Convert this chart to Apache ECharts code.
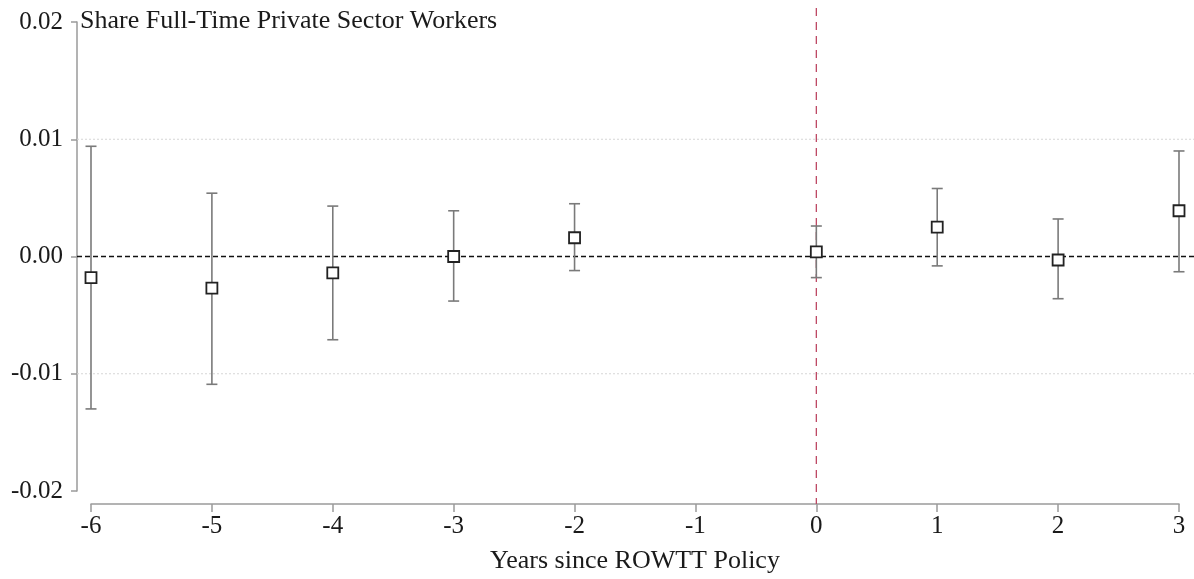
<!DOCTYPE html>
<html>
<head>
<meta charset="utf-8">
<script src="https://cdn.jsdelivr.net/npm/echarts@6/dist/echarts.min.js"></script>
<style>html,body{margin:0;padding:0;background:#fff}#c{width:1194px;height:579px}</style>
</head>
<body>
<div id="c"></div>
<script>
const years = [-6, -5, -4, -3, -2, 0, 1, 2, 3];
const estimates = [-0.0018, -0.0027, -0.0014, 0.0000, 0.0016, 0.0004, 0.0025, -0.0003, 0.0039];
const ciLower = [-0.0130, -0.0109, -0.0071, -0.0038, -0.0012, -0.0018, -0.0008, -0.0036, -0.0013];
const ciUpper = [0.0094, 0.0054, 0.0043, 0.0039, 0.0045, 0.0026, 0.0058, 0.0032, 0.0090];
const xTicks = [-6, -5, -4, -3, -2, -1, 0, 1, 2, 3];
const yTicks = [-0.02, -0.01, 0.00, 0.01, 0.02];
const gridLineValues = [-0.01, 0.01];
const zeroValue = 0;
const policyYear = 0;

const FONT = '"Liberation Serif", "DejaVu Serif", serif';
const AXIS_COLOR = '#9a9a9a';
const TEXT_COLOR = '#1a1a1a';

// Main plot area geometry
const G = {left: 91, right: 15, top: 22, bottom: 88};
const W = 1194, H = 579;
const xMin = -6, xMax = 3, yMin = -0.02, yMax = 0.02;
// Overlay area (reference lines extend to the y-axis / x-axis and beyond the top)
const G2 = {left: 77, right: 0, top: 8, bottom: 75};
const pxPerX = (W - G.left - G.right) / (xMax - xMin);
const pxPerY = (H - G.top - G.bottom) / (yMax - yMin);
const x2Min = xMin - (G.left - G2.left) / pxPerX;
const x2Max = xMax + (G.right - G2.right) / pxPerX;
const y2Max = yMax + (G.top - G2.top) / pxPerY;
const y2Min = yMin - (G.bottom - G2.bottom) / pxPerY;

const chart = echarts.init(document.getElementById('c'), null, {renderer: 'canvas'});

function refLine(points, color, type, width) {
  return {
    type: 'line', xAxisIndex: 1, yAxisIndex: 1, data: points,
    symbol: 'none', silent: true, z: 1, animation: false, clip: false,
    lineStyle: {color: color, type: type, width: width}
  };
}

const option = {
  animation: false,
  backgroundColor: '#ffffff',
  title: {
    text: 'Share Full-Time Private Sector Workers',
    left: 80, top: 8, padding: 0,
    textStyle: {fontFamily: FONT, fontSize: 26, fontWeight: 'normal', color: TEXT_COLOR}
  },
  grid: [
    {left: G.left, right: G.right, top: G.top, bottom: G.bottom, containLabel: false},
    {left: G2.left, right: G2.right, top: G2.top, bottom: G2.bottom, containLabel: false}
  ],
  xAxis: [{
    type: 'value', gridIndex: 0,
    min: xMin, max: xMax, interval: 1,
    offset: 13,
    name: 'Years since ROWTT Policy',
    nameLocation: 'middle',
    nameGap: 44,
    nameTextStyle: {fontFamily: FONT, fontSize: 26, color: TEXT_COLOR},
    axisLine: {show: true, onZero: false, lineStyle: {color: AXIS_COLOR, width: 1.5}},
    axisTick: {show: true, length: 8, lineStyle: {color: AXIS_COLOR, width: 1.5}, customValues: xTicks},
    axisLabel: {fontFamily: FONT, fontSize: 25, color: TEXT_COLOR, margin: 10, customValues: xTicks,
      formatter: v => String(v)},
    splitLine: {show: false}
  }, {
    type: 'value', gridIndex: 1, min: x2Min, max: x2Max, show: false
  }],
  yAxis: [{
    type: 'value', gridIndex: 0,
    min: yMin, max: yMax, interval: 0.01,
    offset: 14,
    axisLine: {show: true, onZero: false, lineStyle: {color: AXIS_COLOR, width: 1.5}},
    axisTick: {show: true, length: 6, lineStyle: {color: AXIS_COLOR, width: 1.5}, customValues: yTicks},
    axisLabel: {fontFamily: FONT, fontSize: 25, color: TEXT_COLOR, margin: 14, customValues: yTicks,
      formatter: v => (Math.abs(v) < 1e-9 ? 0 : v).toFixed(2)},
    splitLine: {show: false}
  }, {
    type: 'value', gridIndex: 1, min: y2Min, max: y2Max, show: false
  }],
  series: [
    refLine([[x2Min, gridLineValues[0]], [x2Max, gridLineValues[0]]], '#d6d6d6', [2, 2], 1),
    refLine([[x2Min, gridLineValues[1]], [x2Max, gridLineValues[1]]], '#d6d6d6', [2, 2], 1),
    refLine([[x2Min, zeroValue], [x2Max, zeroValue]], '#111111', [5, 3], 1.3),
    refLine([[policyYear, y2Max], [policyYear, y2Min]], '#bd4863', [8, 6], 1.3),
    {
      type: 'custom',
      z: 3,
      silent: true,
      clip: false,
      data: years.map((y, i) => [y, ciLower[i], ciUpper[i]]),
      encode: {x: 0, y: [1, 2]},
      renderItem: function (params, api) {
        const x = api.value(0);
        const lo = api.coord([x, api.value(1)]);
        const hi = api.coord([x, api.value(2)]);
        const half = 5.5;
        const style = {stroke: '#7a7a7a', lineWidth: 1.6};
        return {
          type: 'group',
          children: [
            {type: 'line', shape: {x1: lo[0], y1: lo[1], x2: hi[0], y2: hi[1]}, style},
            {type: 'line', shape: {x1: hi[0] - half, y1: hi[1], x2: hi[0] + half, y2: hi[1]}, style},
            {type: 'line', shape: {x1: lo[0] - half, y1: lo[1], x2: lo[0] + half, y2: lo[1]}, style}
          ]
        };
      }
    },
    {
      type: 'scatter',
      z: 5,
      clip: false,
      symbol: 'rect',
      symbolSize: 11,
      data: years.map((y, i) => [y, estimates[i]]),
      itemStyle: {color: '#ffffff', borderColor: '#222222', borderWidth: 1.8, opacity: 1}
    }
  ]
};
chart.setOption(option);
</script>
</body>
</html>
